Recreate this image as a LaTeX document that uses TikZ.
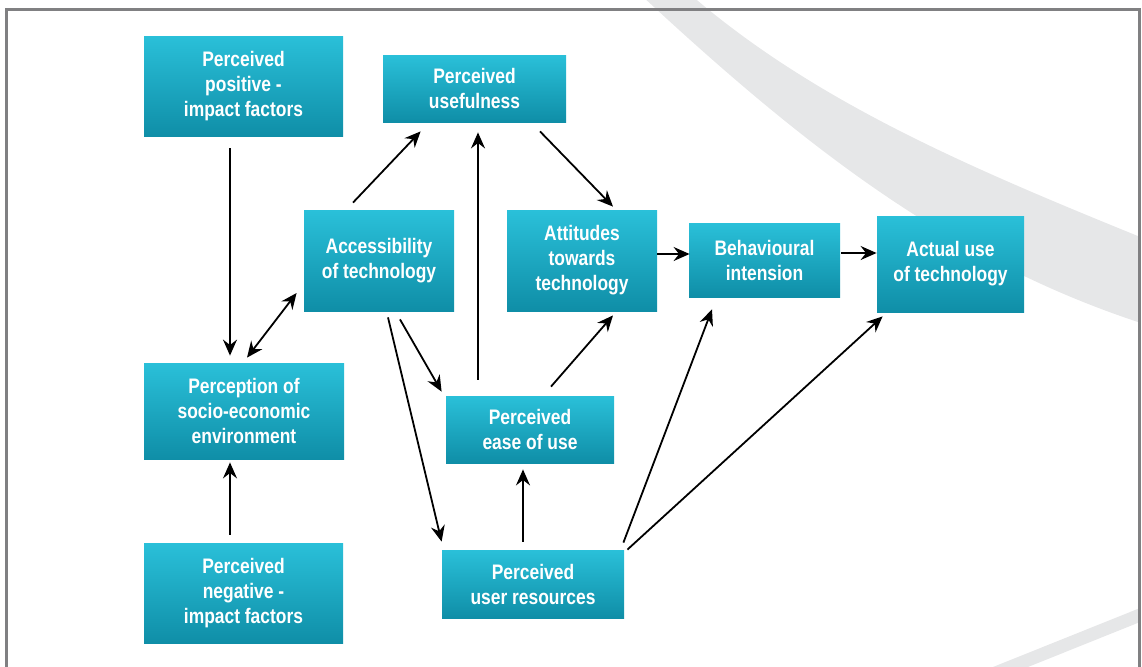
\documentclass[tikz,border=0pt]{standalone}
\usepackage{fontspec}
\setmainfont{Liberation Sans}[FakeStretch=0.83]
\usetikzlibrary{positioning}
\usetikzlibrary{calc}
\usetikzlibrary{arrows.meta}
\definecolor{boxtop}{RGB}{42,192,217}
\definecolor{boxbottom}{RGB}{15,142,167}
\definecolor{swoosh}{RGB}{230,231,232}
\definecolor{framegray}{RGB}{128,128,130}
\tikzset{
    every picture/.append style={
        >={Stealth[length=8pt,width=7pt,inset=2.7pt]}
    }
}
\tikzset{
    factor/.style={rectangle, top color=boxtop, bottom color=boxbottom, text=white,
        align=center, inner sep=0pt, font=\fontsize{10.5}{12.5}\selectfont\bfseries},
    link/.style={->, line width=0.9pt},
    twolink/.style={<->, line width=0.9pt},
}
\begin{document}
\begin{tikzpicture}[x=0.5pt, y=-0.5pt]
		\useasboundingbox (0,0) rectangle (1142,666);
		% background swoosh
		\begin{scope}
		\clip (0,0) rectangle (1139,666);
		\fill[swoosh] (691,-5) .. controls (820,106) and (980,172) .. (1160,245)
			-- (1160,329) .. controls (960,268) and (810,152) .. (641,-5) -- cycle;
		\fill[swoosh] (983,671) -- (1160,600) -- (1160,614) -- (1018,671) -- cycle;
		\end{scope}
		\draw[framegray, line width=1.5pt] (6.5,670) -- (6.5,9.5) -- (1139.5,9.5) -- (1139.5,670);
		
		\node[factor, minimum width=99.5pt, minimum height=50pt] (pos) at (243.5,86) {Perceived\\positive -\\impact factors};
		\node[factor, minimum width=91.5pt, minimum height=33.5pt] (use) at (474.5,88.5) {Perceived\\usefulness};
		\node[factor, minimum width=75pt, minimum height=50.5pt] (acc) at (379,260.5) {Accessibility\\of technology};
		\node[factor, minimum width=100pt, minimum height=48pt] (soc) at (244,411) {Perception of\\socio-economic\\environment};
		\node[factor, minimum width=75pt, minimum height=50.5pt] (att) at (582,260.5) {Attitudes\\towards\\technology};
		\node[factor, minimum width=75.5pt, minimum height=37pt] (beh) at (764.5,260) {Behavioural\\intension};
		\node[factor, minimum width=73.5pt, minimum height=48pt] (act) at (950.5,264) {Actual use\\of technology};
		\node[factor, minimum width=84pt, minimum height=33.5pt] (eou) at (530,429.5) {Perceived\\ease of use};
		\node[factor, minimum width=91pt, minimum height=34pt] (ures) at (533,584) {Perceived\\user resources};
		\node[factor, minimum width=99.5pt, minimum height=50pt] (neg) at (243.5,593) {Perceived\\negative -\\impact factors};
		
		\draw[link] ($(pos.south)+(-13.5,12)$) -- ($(soc.north)+(-14,-7)$);
		\draw[link] ($(neg.north)+(-13.5,-8)$) -- ($(soc.south)+(-14,3)$);
		\draw[twolink] ($(soc.north)+(3,-5)$) -- ($(acc.west)+(-7,32.5)$);
		\draw[link] ($(acc.north)+(-26,-7)$) -- ($(use.south west)+(38,9)$);
		\draw[link] ($(use.south)+(65.5,9)$) -- ($(att.north)+(31,-3)$);
		\draw[link] ($(eou.north)+(-52,-16)$) -- ($(use.south)+(3.5,10)$);
		\draw[link] ($(eou.north)+(21,-9)$) -- ($(att.south)+(31,4)$);
		\draw[link] ($(acc.south)+(21,8)$) -- ($(eou.north west)+(-4,-4)$);
		\draw[link] ($(acc.south)+(9,6)$) -- ($(ures.north west)+(0,-8)$);
		\draw[link] ($(ures.north)+(-10,-8)$) -- ($(eou.south)+(-7,6)$);
		\draw[link] ($(ures.north east)+(-1,-7)$) -- ($(beh.south)+(-52.5,12)$);
		\draw[link] ($(ures.north east)+(3,0)$) -- ($(act.south west)+(6,4)$);
		\draw[link] ($(att.east)+(0,-6.5)$) -- ($(beh.west)+(1,-6)$);
		\draw[link] ($(beh.east)+(1,-7)$) -- ($(act.west)+(0,-11)$);
\end{tikzpicture}
\end{document}
